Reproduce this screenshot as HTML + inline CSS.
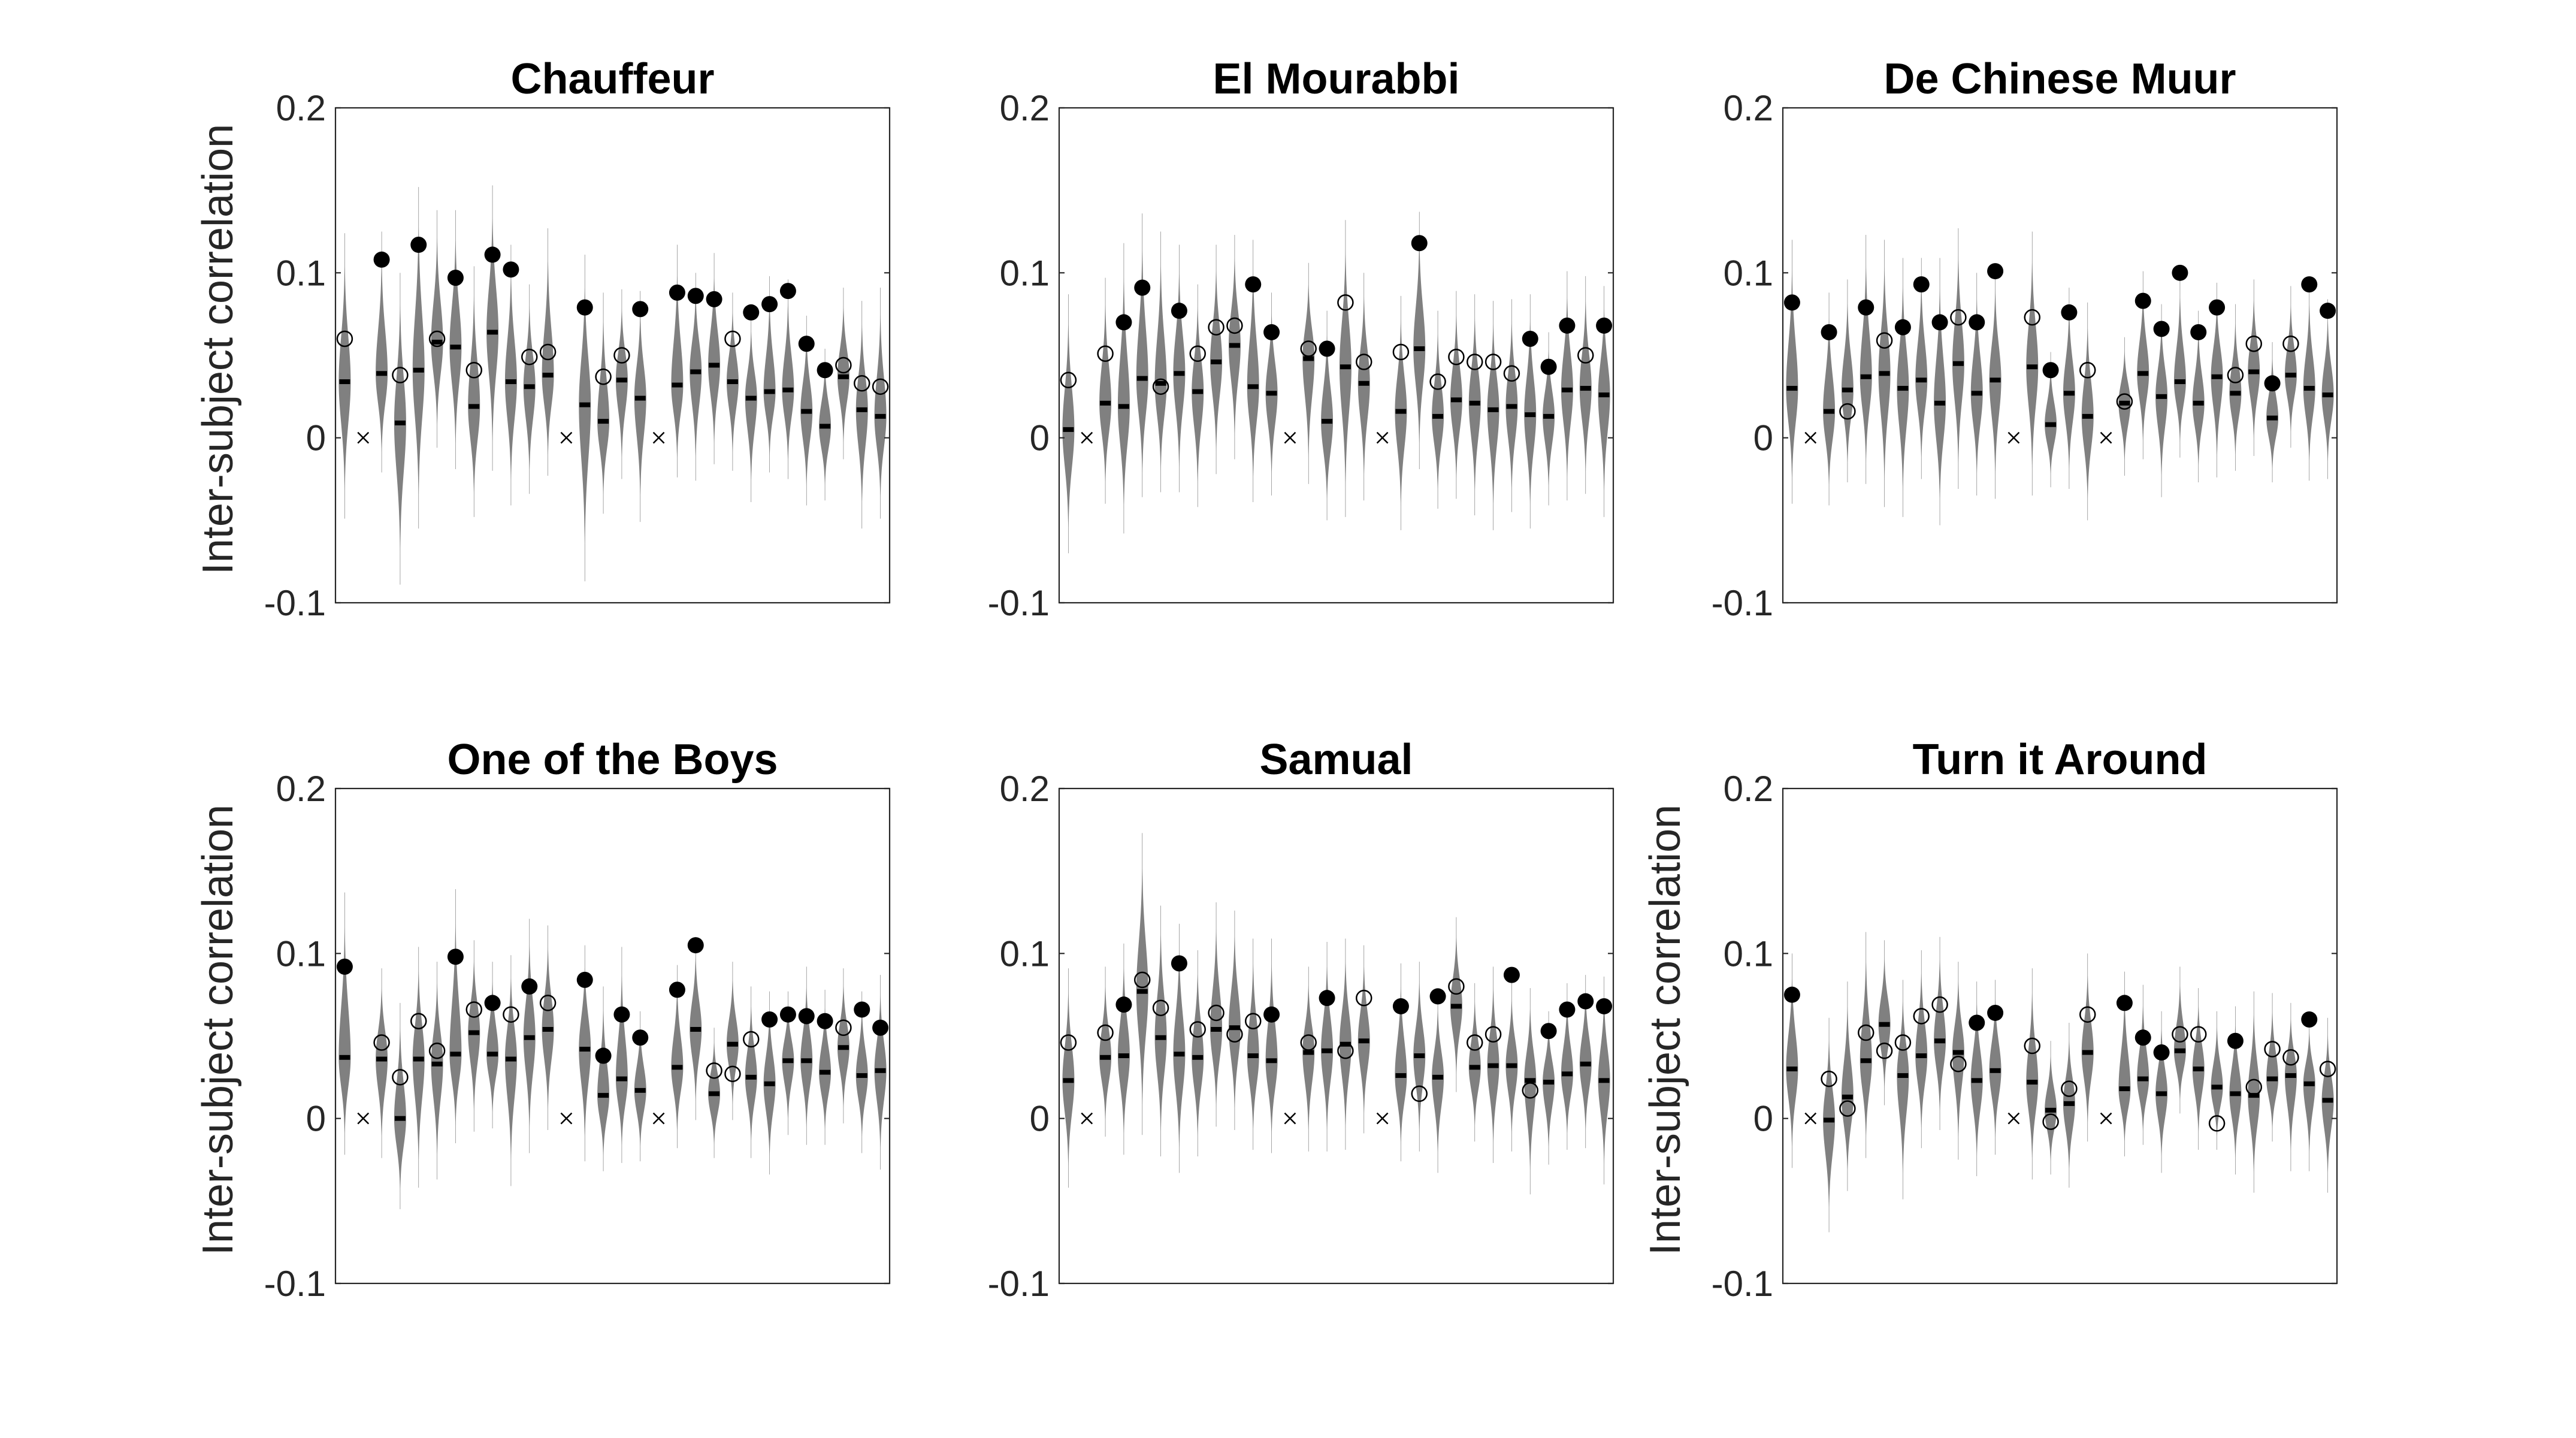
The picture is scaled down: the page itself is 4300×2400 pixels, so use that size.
<!DOCTYPE html>
<html>
<head>
<meta charset="utf-8">
<style>
  html, body { margin: 0; padding: 0; background: #fff; }
  svg { display: block; }
  text { font-family: "Liberation Sans", Arial, sans-serif; fill: #262626; }
</style>
</head>
<body>
<svg id="fig" xmlns="http://www.w3.org/2000/svg" width="4300" height="2400" viewBox="0 0 4300 2400">
  <rect x="0" y="0" width="4300" height="2400" fill="#ffffff"/>
</svg>
<script>
// ---------- data (values in inter-subject correlation units; null = excluded subject) ----------
const panelTitles = ["Chauffeur", "El Mourabbi", "De Chinese Muur", "One of the Boys", "Samual", "Turn it Around"];
const yTicks = [0.2, 0.1, 0, -0.1];
const yTickLabels = ["0.2", "0.1", "0", "-0.1"];

// Chauffeur
const choMed = [.034,null,.039,.009,.041,.058,.055,.019,.064,.034,.031,.038,null,.020,.010,.035,.024,null,.032,.040,.044,.034,.024,.028,.029,.016,.007,.037,.017,.013];
const choObs = [.060,null,.108,.038,.117,.060,.097,.041,.111,.102,.049,.052,null,.079,.037,.050,.078,null,.088,.086,.084,.060,.076,.081,.089,.057,.041,.044,.033,.031];
const choSig = [0,0,1,0,1,0,1,0,1,1,0,0,0,1,0,0,1,0,1,1,1,0,1,1,1,1,1,0,0,0];
const choHi  = [.124,null,.125,.100,.152,.138,.138,.104,.153,.117,.093,.127,null,.111,.088,.090,.089,null,.117,.100,.112,.088,.076,.098,.096,.074,.054,.091,.083,.091];
const choLo  = [-.049,null,-.021,-.089,-.055,-.006,-.019,-.048,-.020,-.041,-.034,-.023,null,-.087,-.046,-.025,-.051,null,-.024,-.026,-.016,-.020,-.039,-.021,-.025,-.041,-.038,-.013,-.055,-.049];

// El Mourabbi
const elmMed = [.005,null,.021,.019,.036,.033,.039,.028,.046,.056,.031,.027,null,.048,.010,.043,.033,null,.016,.054,.013,.023,.021,.017,.019,.014,.013,.029,.030,.026];
const elmObs = [.035,null,.051,.070,.091,.031,.077,.051,.067,.068,.093,.064,null,.054,.054,.082,.046,null,.052,.118,.034,.049,.046,.046,.039,.060,.043,.068,.050,.068];
const elmSig = [0,0,0,1,1,0,1,0,0,0,1,1,0,0,1,0,0,0,0,1,0,0,0,0,0,1,1,1,0,1];
const elmHi  = [.087,null,.097,.118,.136,.125,.117,.093,.117,.123,.120,.088,null,.106,.077,.132,.100,null,.086,.137,.077,.089,.087,.083,.084,.087,.064,.101,.098,.092];
const elmLo  = [-.070,null,-.040,-.058,-.036,-.033,-.033,-.042,-.022,-.013,-.039,-.035,null,-.028,-.050,-.048,-.038,null,-.056,-.019,-.043,-.037,-.047,-.056,-.045,-.055,-.041,-.038,-.034,-.048];

// De Chinese Muur
const dcmMed = [.030,null,.016,.029,.037,.039,.030,.035,.021,.045,.027,.035,null,.043,.008,.027,.013,null,.021,.039,.025,.034,.021,.037,.027,.040,.012,.038,.030,.026];
const dcmObs = [.082,null,.064,.016,.079,.059,.067,.093,.070,.073,.070,.101,null,.073,.041,.076,.041,null,.022,.083,.066,.100,.064,.079,.038,.057,.033,.057,.093,.077];
const dcmSig = [1,0,1,0,1,0,1,1,1,0,1,1,0,0,1,1,0,0,0,1,1,1,1,1,0,0,1,0,1,1];
const dcmHi  = [.120,null,.088,.096,.123,.120,.109,.109,.109,.127,.100,.104,null,.125,.052,.091,.082,null,.061,.101,.081,.100,.077,.094,.081,.096,.058,.092,.095,.084];
const dcmLo  = [-.040,null,-.041,-.027,-.028,-.042,-.048,-.025,-.053,-.031,-.035,-.037,null,-.035,-.030,-.031,-.050,null,-.023,-.013,-.036,-.012,-.027,-.024,-.020,-.011,-.027,-.006,-.026,-.025];

// One of the Boys
const otbMed = [.037,null,.036,.000,.036,.033,.039,.052,.039,.036,.049,.054,null,.042,.014,.024,.017,null,.031,.054,.015,.045,.025,.021,.035,.035,.028,.043,.026,.029];
const otbObs = [.092,null,.046,.025,.059,.041,.098,.066,.070,.063,.080,.070,null,.084,.038,.063,.049,null,.078,.105,.029,.027,.048,.060,.063,.062,.059,.055,.066,.055];
const otbSig = [1,0,0,0,0,0,1,0,1,0,1,0,0,1,1,1,1,0,1,1,0,0,0,1,1,1,1,0,1,1];
const otbHi  = [.137,null,.091,.070,.104,.095,.139,.108,.095,.099,.121,.117,null,.105,.080,.104,.065,null,.093,.110,.055,.095,.080,.077,.077,.092,.078,.091,.077,.087];
const otbLo  = [-.022,null,-.024,-.055,-.042,-.037,-.015,-.008,-.006,-.041,-.021,-.007,null,-.026,-.032,-.027,-.026,null,-.018,-.001,-.024,-.001,-.024,-.034,-.010,-.016,-.016,-.003,-.021,-.031];

// Samual
const samMed = [.023,null,.037,.038,.077,.049,.039,.037,.054,.055,.038,.035,null,.040,.041,.045,.047,null,.026,.038,.025,.068,.031,.032,.032,.023,.022,.027,.033,.023];
const samObs = [.046,null,.052,.069,.084,.067,.094,.054,.064,.051,.059,.063,null,.046,.073,.041,.073,null,.068,.015,.074,.080,.046,.051,.087,.017,.053,.066,.071,.068];
const samSig = [0,0,0,1,0,0,1,0,0,0,0,1,0,0,1,0,0,0,1,0,1,0,0,0,1,0,1,1,1,1];
const samHi  = [.091,null,.092,.106,.173,.129,.118,.102,.131,.126,.109,.109,null,.092,.107,.109,.105,null,.094,.095,.077,.122,.082,.092,.083,.079,.065,.082,.087,.086];
const samLo  = [-.042,null,-.011,-.022,-.010,-.023,-.033,-.023,-.005,-.007,-.019,-.021,null,-.020,-.020,-.019,-.009,null,-.026,-.020,-.033,.016,-.014,-.027,-.020,-.046,-.028,-.019,-.018,-.040];

// Turn it Around
const tiaMed = [.030,null,-.001,.013,.035,.057,.026,.038,.047,.040,.023,.029,null,.022,.005,.009,.040,null,.018,.024,.015,.041,.030,.019,.015,.014,.024,.026,.021,.011];
const tiaObs = [.075,null,.024,.006,.052,.041,.046,.062,.069,.033,.058,.064,null,.044,-.002,.018,.063,null,.070,.049,.040,.051,.051,-.003,.047,.019,.042,.037,.060,.030];
const tiaSig = [1,0,0,0,0,0,0,0,0,0,1,1,0,0,0,0,0,0,1,1,1,0,0,0,1,0,0,0,1,0];
const tiaHi  = [.100,null,.061,.083,.113,.108,.084,.102,.110,.095,.083,.084,null,.091,.047,.058,.100,null,.089,.081,.065,.092,.079,.065,.068,.077,.076,.070,.061,.061];
const tiaLo  = [-.030,null,-.069,-.044,-.024,.008,-.049,-.018,-.007,-.025,-.035,-.022,null,-.037,-.034,-.042,-.014,null,-.023,-.016,-.033,.003,-.019,-.019,-.034,-.045,-.014,-.032,-.032,-.045];

const panelMed = [choMed, elmMed, dcmMed, otbMed, samMed, tiaMed];
const panelObs = [choObs, elmObs, dcmObs, otbObs, samObs, tiaObs];
const panelSig = [choSig, elmSig, dcmSig, otbSig, samSig, tiaSig];
const panelHi  = [choHi, elmHi, dcmHi, otbHi, samHi, tiaHi];
const panelLo  = [choLo, elmLo, dcmLo, otbLo, samLo, tiaLo];
const panelHasYLabel = [true, false, false, true, false, true];

// ---------- layout ----------
const NS = "http://www.w3.org/2000/svg";
const svg = document.getElementById("fig");
const colLeft = [560, 1768, 2976];
const rowTop = [180, 1316];
const axW = 925, axH = 826;
const yMin = -0.1, yMax = 0.2, xMin = 0.5, xMax = 30.5;

function mk(tag, attrs, parent) {
  const e = document.createElementNS(NS, tag);
  for (const k in attrs) e.setAttribute(k, attrs[k]);
  (parent || svg).appendChild(e);
  return e;
}

function drawPanel(p) {
  const L = colLeft[p % 3], T = rowTop[Math.floor(p / 3)];
  const sx = v => L + (v - xMin) / (xMax - xMin) * axW;
  const sy = v => T + (yMax - v) / (yMax - yMin) * axH;
  const slug = panelTitles[p].toLowerCase().replace(/\s+/g, '-');

  const g = mk("g", {});
  
  

  const n = panelMed[p].length;
  for (let i = 0; i < n; i++) {
    const x = sx(i + 1);
    const m = panelMed[p][i];
    if (m === null) {
      const cy = sy(0), s = 9;
      const xm = mk("path", { d: `M${x-s},${cy-s}L${x+s},${cy+s}M${x-s},${cy+s}L${x+s},${cy-s}`, stroke: "#000", "stroke-width": 2.5, fill: "none" }, g);
      
      
      continue;
    }
    const hi = panelHi[p][i], lo = panelLo[p][i];
    const su = (hi - m) * 0.3, sd = (m - lo) * 0.3;
    const W = 10, steps = 60;
    const pts = [];
    for (let k = 0; k <= steps; k++) {
      const v = hi - (hi - lo) * k / steps;
      const d = v - m;
      const s = d >= 0 ? su : sd;
      const w = Math.max(0.35, W * Math.exp(-0.5 * (d / s) * (d / s)));
      pts.push([v, w]);
    }
    let dStr = "";
    pts.forEach((q, k) => { dStr += (k ? "L" : "M") + (x + q[1]).toFixed(2) + "," + sy(q[0]).toFixed(2); });
    for (let k = pts.length - 1; k >= 0; k--) dStr += "L" + (x - pts[k][1]).toFixed(2) + "," + sy(pts[k][0]).toFixed(2);
    dStr += "Z";
    const vio = mk("path", { d: dStr, fill: "#808080", stroke: "none" }, g);
    
    
    const med = mk("rect", { x: x - 9, y: sy(m) - 4, width: 18, height: 8, fill: "#000" }, g);
    
    
  }
  for (let i = 0; i < n; i++) {
    const o = panelObs[p][i];
    if (o === null) continue;
    const x = sx(i + 1);
    const filled = panelSig[p][i] === 1;
    const c = mk("circle", { cx: x, cy: sy(o), r: filled ? 13.5 : 12.5, fill: filled ? "#000" : "none", stroke: "#000", "stroke-width": filled ? 0 : 2.5 }, g);
    
    
  }
  const box = mk("rect", { x: L, y: T, width: axW, height: axH, fill: "none", stroke: "#262626", "stroke-width": 2.2 }, g);
  
  
  yTicks.forEach((t, k) => {
    const y = sy(t);
    const tk = mk("path", { d: `M${L},${y}L${L+9},${y}M${L+axW},${y}L${L+axW-9},${y}`, stroke: "#262626", "stroke-width": 2.2 }, g);
    
    
    const lb = mk("text", { x: L - 16, y: y + 21, "text-anchor": "end", "font-size": 60 }, g);
    lb.textContent = yTickLabels[k];
    
    
  });
  const tt = mk("text", { x: L + axW / 2, y: T - 24, "text-anchor": "middle", "font-size": 72, "font-weight": "bold" }, g);
  tt.textContent = panelTitles[p];
  tt.style.fill = "#000";
  
  
  if (panelHasYLabel[p]) {
    const cx = L - 172, cy = T + axH / 2 - 10;
    const yl = mk("text", { x: cx, y: cy, "text-anchor": "middle", "font-size": 72, transform: `rotate(-90 ${cx} ${cy})` }, g);
    yl.textContent = "Inter-subject correlation";
    
    
  }
}

for (let p = 0; p < 6; p++) drawPanel(p);
</script>
</body>
</html>
